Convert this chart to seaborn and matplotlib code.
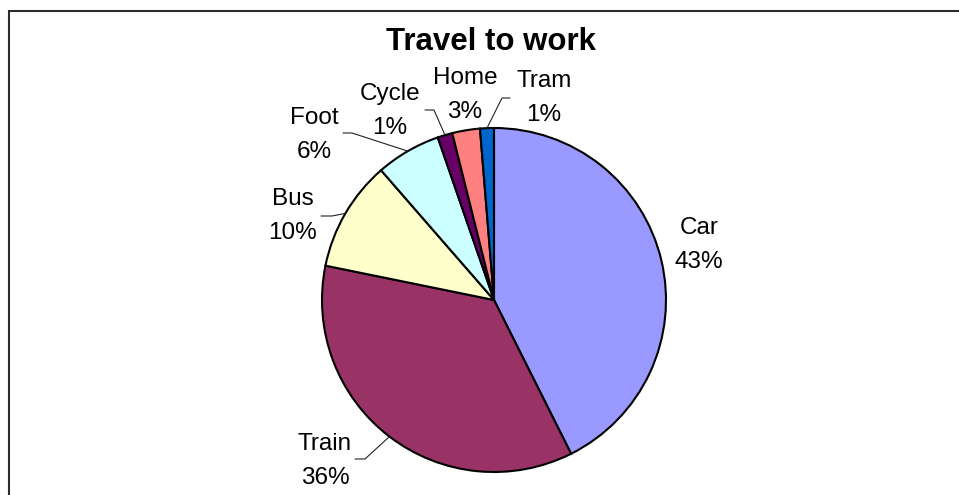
# Travel to work - pie chart (Excel style)
import numpy as np
import matplotlib
matplotlib.use("Agg")
import matplotlib.pyplot as plt
import seaborn as sns
from matplotlib.patches import Rectangle

# ------------------------------------------------------------
# DATA
# ------------------------------------------------------------
modes = ["Car", "Train", "Bus", "Foot", "Cycle", "Home", "Tram"]
shares = [42.6, 35.6, 10.4, 6.1, 1.4, 2.6, 1.3]
colors = ["#9999FF", "#993366", "#FFFFCC", "#CCFFFF", "#660066", "#FF8080", "#0066CC"]
title = "Travel to work"

# ------------------------------------------------------------
# LAYOUT (pixel coords, y measured from the top)
# ------------------------------------------------------------
W, H = 959, 495
cx, cy, R = 494, 300, 172

# label centre x and baseline of first line
label_pos = {
    "Car": (699, 234),
    "Train": (325, 450),
    "Bus": (293, 205),
    "Foot": (314, 124),
    "Cycle": (390, 100),
    "Home": (465, 84),
    "Tram": (544, 87),
}
line_gap = 34

# leader lines: horizontal stub (x_start, x_elbow, y), then to wedge edge
leaders = {
    "Train": (355, 365, 459),
    "Bus": (321, 332, 216),
    "Foot": (343, 352, 133),
    "Cycle": (425, 434, 110),
    "Tram": (510, 502, 98),
}

sns.set_theme(style="white")
plt.rcParams["font.family"] = ["Liberation Sans", "DejaVu Sans"]
plt.rcParams["text.color"] = "black"

fig = plt.figure(figsize=(W / 100, H / 100), dpi=100)
ax = fig.add_axes([0, 0, 1, 1])

ax.pie(
    shares,
    colors=colors,
    startangle=90,
    counterclock=False,
    center=(cx, H - cy),
    radius=R,
    wedgeprops=dict(edgecolor="black", linewidth=1.5),
)
ax.set_xlim(0, W)
ax.set_ylim(0, H)
ax.set_aspect("auto")
ax.axis("off")

total = sum(shares)
cum = np.cumsum([0] + shares[:-1])

for i, name in enumerate(modes):
    pct = f"{shares[i] / total * 100:.0f}%"
    x, yb = label_pos[name]
    ax.text(x, H - yb, name, ha="center", va="baseline", fontsize=17.5, color="black")
    ax.text(x, H - (yb + line_gap), pct, ha="center", va="baseline", fontsize=17.5, color="black")

    if name in leaders:
        mid = (cum[i] + shares[i] / 2) / total * 2 * np.pi
        ex = cx + R * np.sin(mid)
        ey = cy - R * np.cos(mid)
        xs, xe, ly = leaders[name]
        ax.plot([xs, xe, ex], [H - ly, H - ly, H - ey], color="#222222", lw=0.8)

ax.text(491, H - 50, title, ha="center", va="baseline", fontsize=22.5,
        fontweight="bold", color="black")

# chart frame (only top/left edges are visible)
ax.add_patch(Rectangle((9, -10), 1000, H - 10.5 + 10, fill=False,
                       edgecolor="#2b2b2b", linewidth=1.5))

fig.savefig("out.png", dpi=100, facecolor="white")
